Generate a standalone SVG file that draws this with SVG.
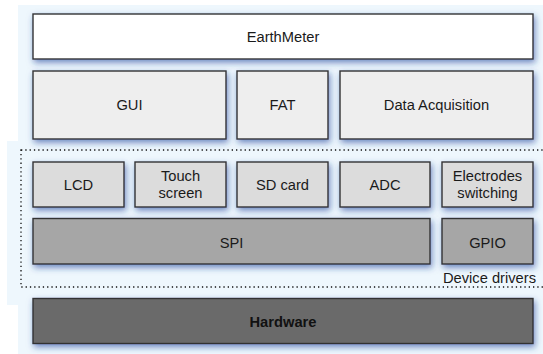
<svg xmlns="http://www.w3.org/2000/svg" width="543" height="354" viewBox="0 0 543 354">
<defs>
<filter id="sh" x="-20%" y="-40%" width="140%" height="190%">
<feDropShadow dx="1.5" dy="3" stdDeviation="3" flood-color="#23439a" flood-opacity="0.6"/>
</filter>
<style>
.b{stroke:#333;stroke-width:1.4;filter:url(#sh)}
.t{font-family:"Liberation Sans",Arial,sans-serif;font-size:14.7px;fill:#1a1a1a;text-anchor:middle}
.w{fill:#ffffff}.l1{fill:#eeeeee}.l2{fill:#dcdcdc}.l3{fill:#a6a6a6}.l4{fill:#6b6b6b}
</style>
</defs>
<rect width="543" height="354" fill="#ffffff"/>
<g id="background">
<rect x="18" y="5" width="525" height="349" fill="#eef7fd"/>
<rect x="7" y="141" width="536" height="164" fill="#eef7fd"/>
</g>
<g id="earthmeter"><rect class="b w" x="33" y="14" width="500" height="45"/><text class="t" x="283" y="41.7">EarthMeter</text></g>
<g id="gui"><rect class="b l1" x="33" y="71" width="193" height="68"/><text class="t" x="129.5" y="110">GUI</text></g>
<g id="fat"><rect class="b l1" x="237" y="71" width="91" height="68"/><text class="t" x="282.5" y="110">FAT</text></g>
<g id="daq"><rect class="b l1" x="340" y="71" width="193" height="68"/><text class="t" x="436.5" y="110">Data Acquisition</text></g>
<g id="device-drivers">
<rect x="21" y="150" width="530" height="137" fill="none" stroke="#111" stroke-width="1.3" stroke-dasharray="1.3 3"/>
<text x="536" y="283" style="font-family:'Liberation Sans',Arial,sans-serif;font-size:14.7px;fill:#1a1a1a;text-anchor:end">Device drivers</text>
</g>
<g id="lcd"><rect class="b l2" x="33" y="162" width="91" height="45"/><text class="t" x="78.5" y="190">LCD</text></g>
<g id="touch"><rect class="b l2" x="135" y="162" width="91" height="45"/><text class="t" x="180.5" y="180.7">Touch</text><text class="t" x="180.5" y="197.5">screen</text></g>
<g id="sdcard"><rect class="b l2" x="237" y="162" width="91" height="45"/><text class="t" x="282.5" y="190">SD card</text></g>
<g id="adc"><rect class="b l2" x="340" y="162" width="90" height="45"/><text class="t" x="385" y="190">ADC</text></g>
<g id="electrodes"><rect class="b l2" x="442" y="162" width="91" height="45"/><text class="t" x="487.5" y="180.7">Electrodes</text><text class="t" x="487.5" y="197.5">switching</text></g>
<g id="spi"><rect class="b l3" x="33" y="218.5" width="397" height="45.5"/><text class="t" x="231.5" y="248">SPI</text></g>
<g id="gpio"><rect class="b l3" x="442" y="218.5" width="91" height="45.5"/><text class="t" x="487.5" y="248">GPIO</text></g>
<g id="hardware"><rect class="b l4" x="33" y="298.5" width="500" height="45"/><text class="t" x="283" y="326.5" style="font-weight:bold;fill:#111">Hardware</text></g>
<g id="connectors"></g>
</svg>
